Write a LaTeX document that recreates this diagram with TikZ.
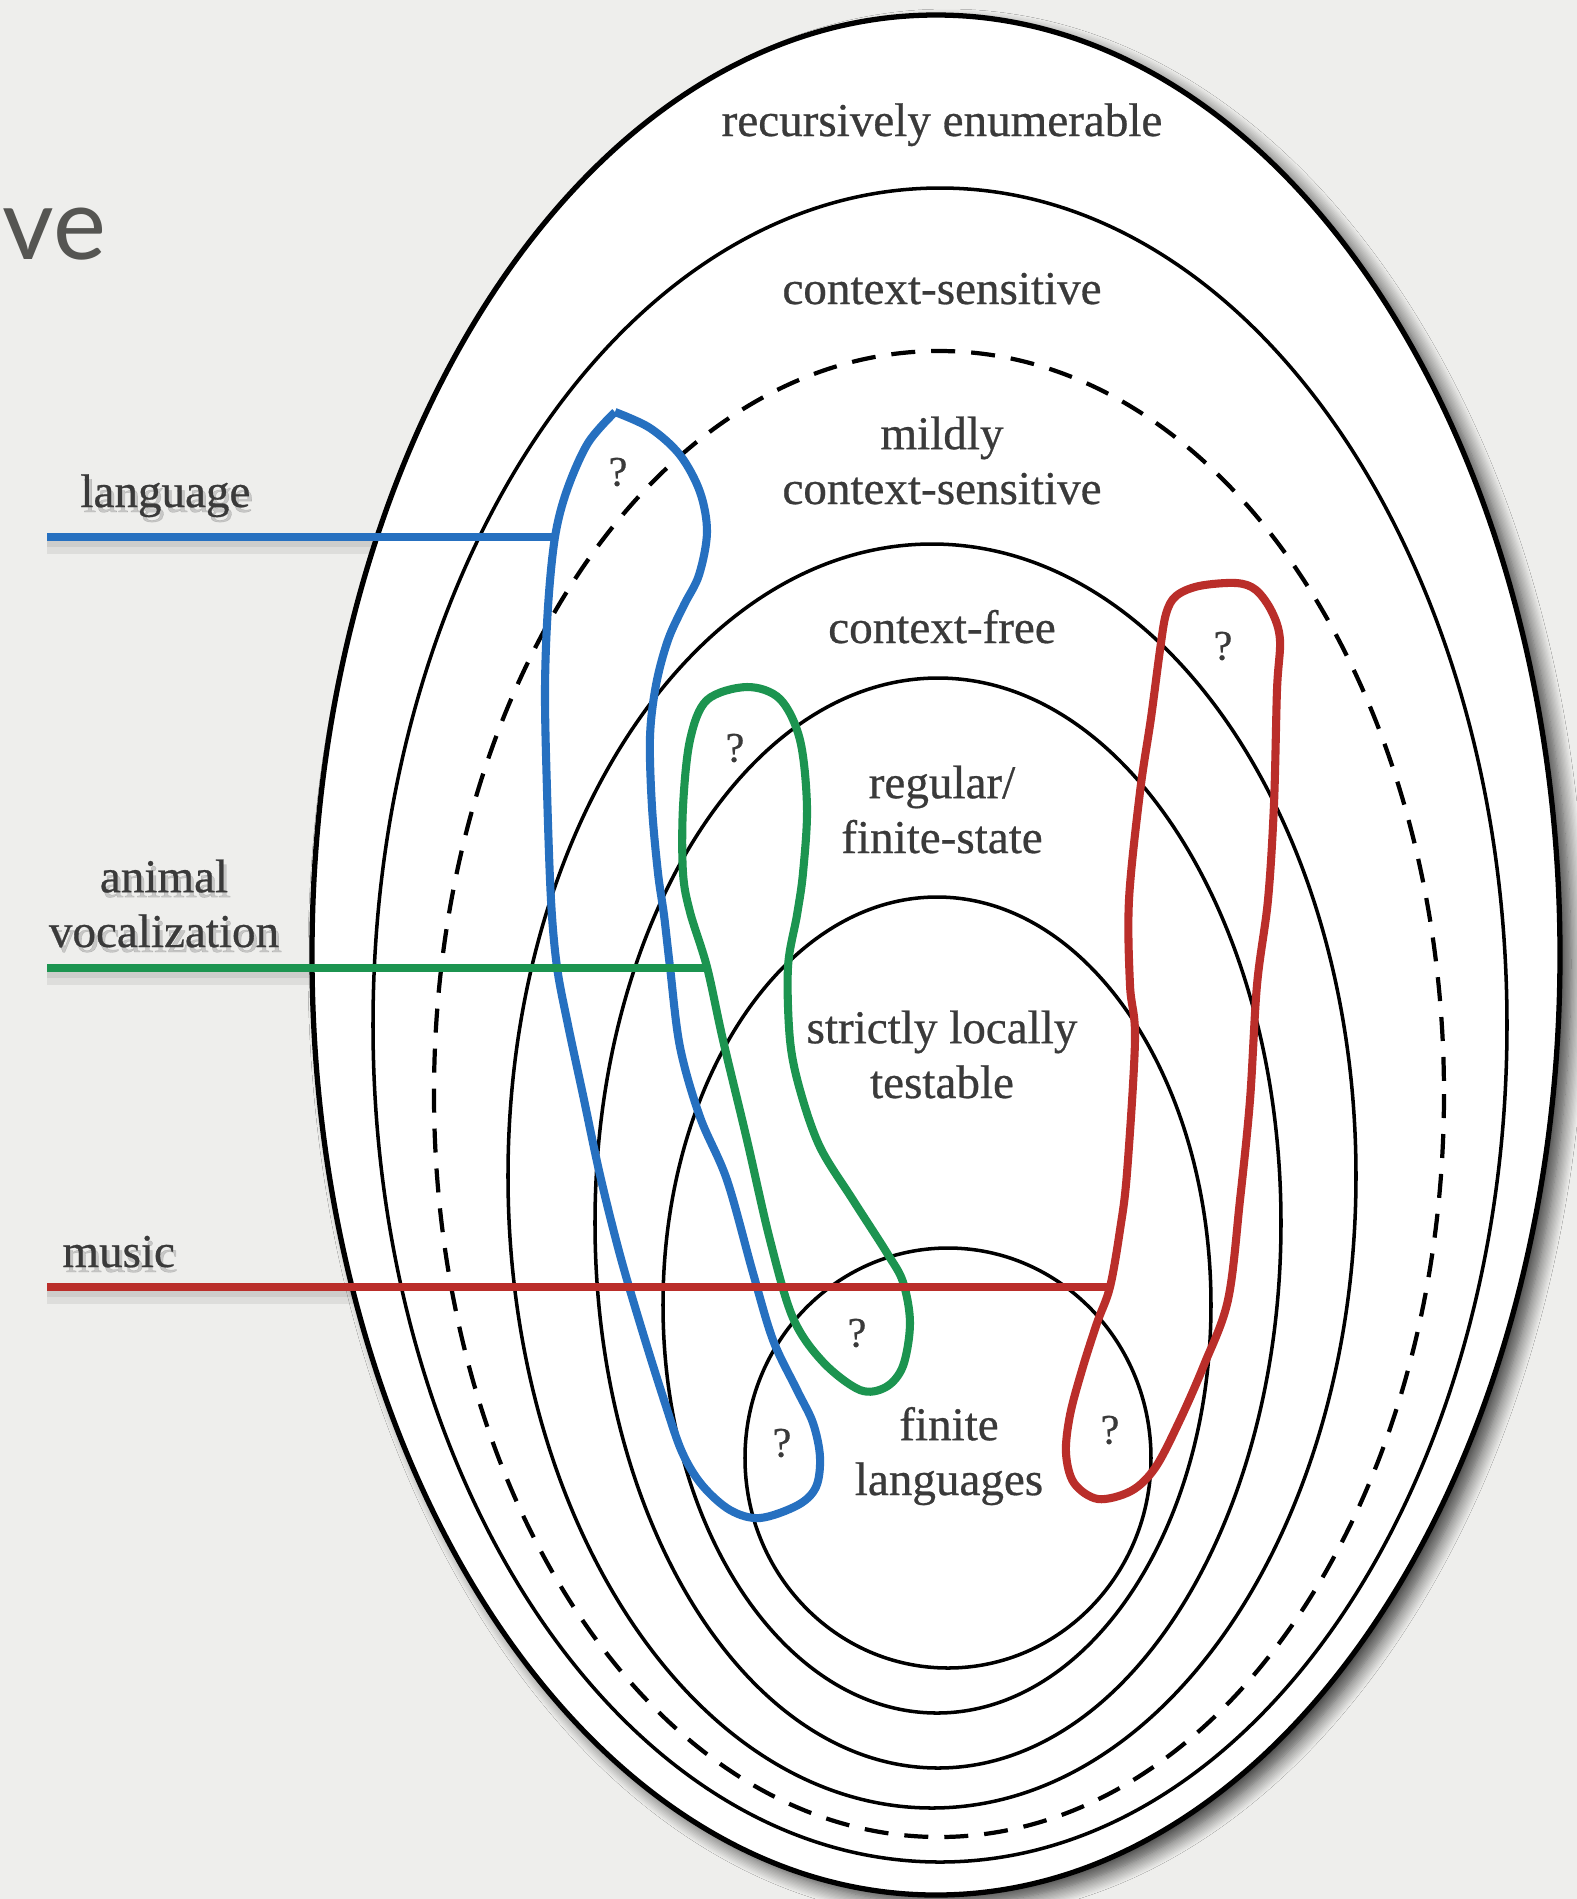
\documentclass[tikz,border=0pt]{standalone}
\usepackage{fontspec}
\setmainfont{Liberation Serif}[FakeBold=0.6]
\newfontfamily\slidefont{Lato}
\usetikzlibrary{shadows.blur}

\definecolor{paper}{RGB}{238,238,236}
\definecolor{inkgray}{RGB}{58,58,58}
\definecolor{langblue}{RGB}{38,112,192}
\definecolor{vocgreen}{RGB}{28,148,80}
\definecolor{musicred}{RGB}{186,46,42}

\tikzset{
  langclass/.style={draw=black, line width=1pt},
  classlabel/.style={text=inkgray, font=\fontsize{13.4}{15.6}\selectfont, align=center, anchor=base},
  sidelabel/.style={text=inkgray, font=\fontsize{13.4}{15.6}\selectfont, align=center, anchor=base},
  sideshade/.style={sidelabel, text=black, opacity=0.16},
  qmark/.style={text=inkgray, font=\fontsize{12}{14}\selectfont},
  blob/.style={line width=2.3pt, line join=round},
  feed/.style={line width=2.2pt},
  feedshadow/.style={line width=5pt, black, opacity=0.07},
}

\begin{document}
\begin{tikzpicture}[x=0.1mm, y=-0.1mm]
    \useasboundingbox (0,0) rectangle (1577,1899);
    \fill[paper] (0,0) rectangle (1577,1899);

    \node[anchor=base west, inner sep=0, text={rgb,255:red,85;green,85;blue,82},
          font=\slidefont\fontsize{28.5}{32}\selectfont] (titlefrag) at (2,259) {ve};

    % connector ends
    \coordinate (langstart) at (47,537);
    \coordinate (langjoin) at (556,537);
    \coordinate (animstart) at (47,968);
    \coordinate (animjoin) at (707,968);
    \coordinate (musicstart) at (47,1287);
    \coordinate (musicjoin) at (1110,1287);

    % shadows under the connectors
    \foreach \a/\b in {langstart/langjoin, animstart/animjoin, musicstart/musicjoin} {
        \draw[feedshadow] ([yshift=-0.8mm]\a) -- ([yshift=-0.8mm]\b);
        \draw[feedshadow, line width=2.5pt] ([yshift=-0.6mm]\a) -- ([yshift=-0.6mm]\b);
    }

    % Chomsky hierarchy
    \fill[white, blur shadow={shadow xshift=1.1mm, shadow yshift=-0.9mm,
          shadow blur radius=1.5mm, shadow blur steps=12, shadow opacity=75}]
          (936,955) ellipse [x radius=624, y radius=940];
    \draw[langclass, line width=1.5pt] (936,955) ellipse [x radius=624, y radius=940];
    \draw[langclass] (940,1025) ellipse [x radius=567, y radius=837];
    \draw[langclass, line width=1.2pt, dash pattern=on 2.4mm off 1.6mm] (939,1094) ellipse [x radius=505, y radius=743];
    \draw[langclass] (932,1176) ellipse [x radius=424, y radius=632];
    \draw[langclass] (938,1223) ellipse [x radius=343, y radius=545];
    \draw[langclass] (937,1305) ellipse [x radius=274, y radius=408];
    \draw[langclass] (948,1458) ellipse [x radius=203, y radius=210];

    \node[classlabel] (re) at (942,136) {recursively enumerable};
    \node[classlabel] (cs) at (942,304) {context-sensitive};
    \node[classlabel] (mcs) at (942,504) {mildly\\context-sensitive};
    \node[classlabel] (cf) at (942,643) {context-free};
    \node[classlabel] (reg) at (942,853) {regular/\\finite-state};
    \node[classlabel] (slt) at (942,1098) {strictly locally\\testable};
    \node[classlabel] (fin) at (949,1495) {finite\\languages};

    % language
    \draw[blob, langblue] plot[smooth, tension=0.55] coordinates {
        (615,412) (650,428) (680,455) (700,492) (707,532) (699,575) (684,605)
        (668,640) (656,685) (650,737) (652,807) (658,873) (664,915) (670,967)
        (680,1047) (700,1117) (727,1180) (753,1273) (773,1340) (797,1390)
        (813,1423) (820,1457) (816,1487) (798,1505) (760,1518) (730,1510)
        (702,1485) (682,1452) (664,1400) (642,1330) (620,1255) (600,1175)
        (583,1095) (568,1025) (557,967) (551,900) (547,790) (545,690)
        (548,607) (555,537) (567,490) (588,443) (615,412)};
    \draw[feed, langblue] (langstart) -- (langjoin);

    % animal vocalization
    \draw[blob, vocgreen] plot[smooth cycle, tension=0.55] coordinates {
        (747,687) (780,699) (800,740) (807,807) (803,873) (797,915) (788,967)
        (790,1040) (800,1090) (820,1147) (853,1200) (887,1253) (903,1282)
        (910,1323) (903,1366) (886,1387) (860,1390) (823,1362) (793,1318)
        (770,1240) (747,1140) (723,1040) (707,967) (690,912) (683,873)
        (683,807) (690,740) (707,700)};
    \draw[feed, vocgreen] (animstart) -- (animjoin);

    % music
    \draw[blob, musicred] plot[smooth cycle, tension=0.55] coordinates {
        (1166,614) (1176,596) (1199,586) (1236,583) (1256,590) (1272,612)
        (1280,640) (1277,690) (1274,804) (1268,900) (1257,985) (1250,1100)
        (1240,1200) (1228,1300) (1204,1365) (1179,1422) (1155,1468)
        (1131,1491) (1098,1499) (1074,1483) (1066,1453) (1070,1415)
        (1082,1370) (1097,1323) (1110,1287) (1120,1230) (1127,1173)
        (1135,1040) (1130,985) (1129,900) (1140,792) (1151,718) (1160,650)};
    \draw[feed, musicred] (musicstart) -- (musicjoin);

    \node[qmark] (q1) at (618,472) {?};
    \node[qmark] (q2) at (735,748) {?};
    \node[qmark] (q3) at (857,1333) {?};
    \node[qmark] (q4) at (782,1443) {?};
    \node[qmark] (q5) at (1110,1430) {?};
    \node[qmark] (q6) at (1223,646) {?};

    % side labels with their soft shadows
    \node[sideshade, anchor=base west] (language-shade) at (71,512) {language};
    \node[sideshade] (animal-shade) at (167,952) {animal\\vocalization};
    \node[sideshade, anchor=base west] (music-shade) at (53,1272) {music};
    \node[sidelabel, anchor=base west] (language) at (68,507) {language};
    \node[sidelabel] (animal) at (164,947) {animal\\vocalization};
    \node[sidelabel, anchor=base west] (music) at (50,1267) {music};
\end{tikzpicture}
\end{document}
